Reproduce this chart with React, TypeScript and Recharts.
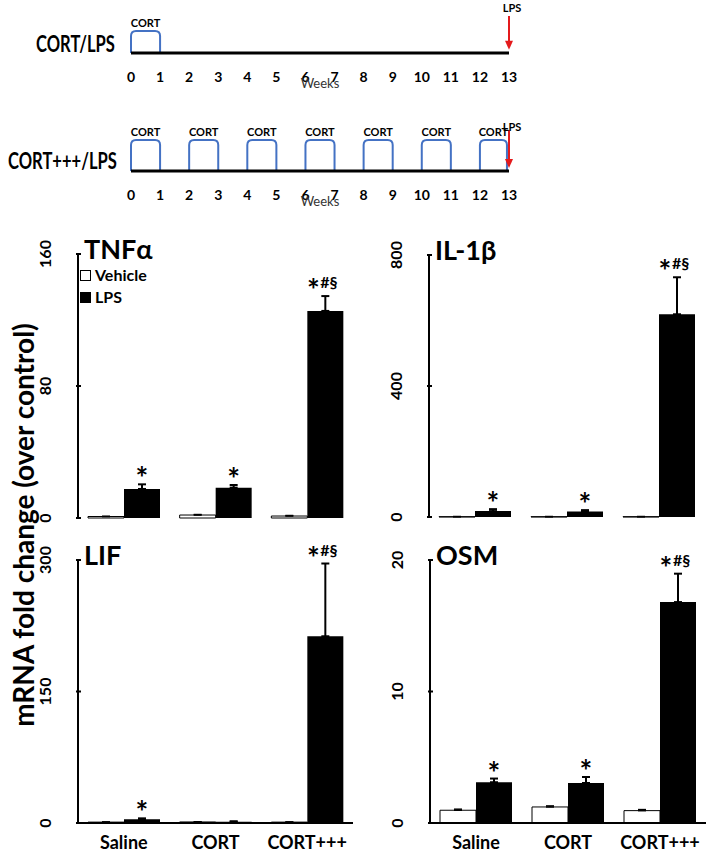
import React from 'react';
import {
  BarChart,
  Bar,
  XAxis,
  YAxis,
  ErrorBar,
  LabelList,
  Legend,
  LineChart,
  Line,
  ReferenceArea,
  ReferenceLine,
  ReferenceDot,
} from 'recharts';

const FONT = 'Lato, "Open Sans", sans-serif';

// timeline schematic
const WEEKS = [0, 1, 2, 3, 4, 5, 6, 7, 8, 9, 10, 11, 12, 13];
const CORT_ONCE = [[0, 1]];
const CORT_REPEAT = [[0, 1], [2, 3], [4, 5], [6, 7], [8, 9], [10, 11], [12, 12.93]];
const LPS_WEEK = 13;

// bar panels
const GROUPS = ['Saline', 'CORT', 'CORT+++'];
const SERIES = ['Vehicle', 'LPS'];

const TNF_VEH = [0.9, 1.8, 1.2];
const TNF_VEH_ERR = [0.1, 0.3, 0.3];
const TNF_LPS = [17.6, 18.4, 125.5];
const TNF_LPS_ERR = [2.8, 1.6, 9];
const TNF_TICKS = [0, 80, 160];

const IL1_VEH = [1, 1, 1];
const IL1_VEH_ERR = [0.3, 0.3, 0.3];
const IL1_LPS = [18, 17, 619];
const IL1_LPS_ERR = [6, 4, 113];
const IL1_TICKS = [0, 400, 800];

const LIF_VEH = [1, 1.2, 1];
const LIF_VEH_ERR = [0.2, 0.2, 0.2];
const LIF_LPS = [4.2, 1.5, 213];
const LIF_LPS_ERR = [1.1, 0.4, 83];
const LIF_TICKS = [0, 150, 300];

const OSM_VEH = [0.97, 1.22, 0.94];
const OSM_VEH_ERR = [0.08, 0.08, 0.08];
const OSM_LPS = [3.1, 3.04, 16.8];
const OSM_LPS_ERR = [0.28, 0.46, 2.16];
const OSM_TICKS = [0, 10, 20];

const STARS_ALL = ['*', '*', '*#§'];
const STARS_LIF = ['*', '', '*#§'];

const pulseShape = (p: any) => {
  const { x, y, width, height } = p;
  const r = 5;
  const d = `M${x},${y + height} L${x},${y + r} Q${x},${y} ${x + r},${y} L${x + width - r},${y} Q${x + width},${y} ${x + width},${y + r} L${x + width},${y + height}`;
  return <path d={d} fill="none" stroke="#4472C4" strokeWidth={2} />;
};

const arrowHead = (p: any) => {
  const { cx, cy } = p;
  return <polygon points={`${cx - 4},${cy - 9} ${cx + 4},${cy - 9} ${cx},${cy}`} fill="#e41a1c" />;
};

const lpsText = (p: any) => (
  <text x={p.cx + 3} y={p.cy} textAnchor="middle" dominantBaseline="central" fontSize={11} fontWeight={700} fill="#000">
    LPS
  </text>
);

function Timeline({ top, height, pulses, marginTop, marginBottom, arrowTop, labelY, tipY }: any) {
  const data = WEEKS.map((w) => ({ week: w, base: 0 }));
  return (
    <div style={{ position: 'absolute', left: 0, top }}>
      <LineChart width={712} height={height} data={data} margin={{ top: marginTop, right: 203, bottom: marginBottom, left: 131 }}>
        <XAxis
          dataKey="week"
          type="number"
          domain={[0, 13]}
          ticks={WEEKS}
          interval={0}
          height={30}
          tickLine={false}
          tickMargin={13}
          axisLine={{ stroke: '#000', strokeWidth: 3 }}
          tick={{ fontSize: 14, fontWeight: 700, fill: '#000' }}
          label={{ value: 'Weeks', position: 'bottom', offset: -4, fontSize: 13, fill: '#333' }}
        />
        <YAxis hide type="number" domain={[0, 2]} />
        <Line dataKey="base" stroke="none" dot={false} activeDot={false} isAnimationActive={false} />
        {pulses.map(([a, b]: number[], i: number) => (
          <ReferenceArea
            key={i}
            x1={a}
            x2={b}
            y1={0}
            y2={1}
            shape={pulseShape}
            ifOverflow="visible"
            label={{ value: 'CORT', position: 'top', offset: 4, fontSize: 11, fontWeight: 700, fill: '#000' }}
          />
        ))}
        <ReferenceLine
          segment={[{ x: LPS_WEEK, y: arrowTop }, { x: LPS_WEEK, y: tipY + 0.2 }]}
          stroke="#e41a1c"
          strokeWidth={2}
          ifOverflow="visible"
        />
        <ReferenceDot x={LPS_WEEK} y={tipY} r={0} shape={arrowHead} ifOverflow="visible" />
        <ReferenceDot x={LPS_WEEK} y={labelY} r={0} shape={lpsText} ifOverflow="visible" />
      </LineChart>
    </div>
  );
}

const makeYTick = (p: any) => {
  const { x, y, payload } = p;
  const tx = x - 32;
  return (
    <g>
      <line x1={x} x2={x + 5} y1={y} y2={y} stroke="#000" strokeWidth={2} />
      <text
        x={tx}
        y={y}
        transform={`rotate(-90 ${tx} ${y})`}
        textAnchor="middle"
        dominantBaseline="central"
        fontSize={16}
        fontWeight={700}
        fill="#000"
      >
        {payload.value}
      </text>
    </g>
  );
};

const legendContent = (props: any) => {
  const items = SERIES.map((name) => props.payload.find((e: any) => e.value === name)).filter(Boolean);
  return (
    <div style={{ fontFamily: FONT, fontWeight: 700, fontSize: 16, lineHeight: '22px', color: '#000' }}>
      {items.map((e: any) => (
        <div key={e.value} style={{ display: 'flex', alignItems: 'center' }}>
          <span
            style={{
              display: 'inline-block',
              width: 9,
              height: 9,
              border: '1px solid #000',
              background: e.color,
              marginRight: 4,
            }}
          />
          {e.value}
        </div>
      ))}
    </div>
  );
};

function Panel({ left, top, width, height, axisW, marginTop, marginRight, marginBottom, xHeight, title, veh, vehErr, lps, lpsErr, ticks, stars, showLegend }: any) {
  const data = GROUPS.map((g, i) => ({
    group: g,
    vehicle: veh[i],
    vehErr: [0, vehErr[i]],
    lps: lps[i],
    lpsErr: [0, lpsErr[i]],
    star: stars[i],
    err: lpsErr[i],
  }));

  const starLabel = (p: any) => {
    const { x, y, width: w, height: h, index } = p;
    const d = data[index];
    if (!d || !d.star) return null;
    const errPx = d.lps > 0 ? (d.err * Math.abs(h)) / d.lps : 0;
    const cx = x + w / 2;
    const errTop = y - errPx;
    if (d.star === '*') {
      return (
        <text x={cx} y={errTop + 5} textAnchor="middle" fontSize={30} fontWeight={700} fill="#000">
          *
        </text>
      );
    }
    return (
      <g>
        <text x={cx - 12} y={errTop + 5} textAnchor="middle" fontSize={30} fontWeight={700} fill="#000">
          *
        </text>
        <text x={cx - 5} y={errTop - 8} textAnchor="start" fontSize={16} fontWeight={700} fill="#000">
          #§
        </text>
      </g>
    );
  };

  return (
    <div style={{ position: 'absolute', left, top }}>
      <BarChart
        width={width}
        height={height}
        data={data}
        margin={{ top: marginTop, right: marginRight, bottom: marginBottom, left: 0 }}
        barCategoryGap={10}
        barGap={0}
      >
        <XAxis
          dataKey="group"
          height={xHeight}
          tickLine={false}
          tick={xHeight > 0 ? { fontSize: 18, fontWeight: 700, fill: '#000' } : false}
          tickMargin={7}
          axisLine={{ stroke: '#000', strokeWidth: 2 }}
        />
        <YAxis
          width={axisW}
          domain={[ticks[0], ticks[2]]}
          ticks={ticks}
          interval={0}
          tickSize={0}
          tickLine={false}
          tick={makeYTick}
          axisLine={{ stroke: '#000', strokeWidth: 2 }}
        />
        {showLegend && (
          <Legend
            layout="vertical"
            align="center"
            verticalAlign="middle"
            content={legendContent}
            wrapperStyle={{ position: 'absolute', left: 80, top: 34, width: 120 }}
          />
        )}
        <Bar dataKey="vehicle" name="Vehicle" fill="#fff" stroke="#000" strokeWidth={1} isAnimationActive={false}>
          <ErrorBar dataKey="vehErr" direction="y" width={4} stroke="#000" strokeWidth={1.5} />
        </Bar>
        <Bar dataKey="lps" name="LPS" fill="#000" isAnimationActive={false}>
          <ErrorBar dataKey="lpsErr" direction="y" width={4} stroke="#000" strokeWidth={2} />
          <LabelList dataKey="star" content={starLabel} />
        </Bar>
      </BarChart>
      <div
        style={{
          position: 'absolute',
          left: axisW + 6,
          top: marginTop - 20,
          fontSize: 27,
          fontWeight: 700,
          lineHeight: '30px',
          color: '#000',
        }}
      >
        {title}
      </div>
    </div>
  );
}

const groupLabel: React.CSSProperties = {
  position: 'absolute',
  fontSize: 23,
  fontWeight: 700,
  lineHeight: '28px',
  transform: 'scaleX(0.72)',
  transformOrigin: 'left center',
  whiteSpace: 'nowrap',
};

export default function App() {
  return (
    <div
      style={{
        position: 'absolute',
        left: 0,
        top: 0,
        width: 712,
        height: 852,
        background: '#fff',
        fontFamily: FONT,
        overflow: 'hidden',
      }}
    >
      <div style={{ ...groupLabel, left: 36, top: 29 }}>CORT/LPS</div>
      <div style={{ ...groupLabel, left: 8, top: 146 }}>CORT+++/LPS</div>

      <Timeline top={0} height={100} pulses={CORT_ONCE} marginTop={9} marginBottom={17} arrowTop={1.68} labelY={2.05} tipY={0.15} />
      <Timeline top={100} height={120} pulses={CORT_REPEAT} marginTop={9} marginBottom={19} arrowTop={1.32} labelY={1.45} tipY={0.1} />

      <div
        style={{
          position: 'absolute',
          left: 23,
          top: 525,
          transform: 'translate(-50%, -50%) rotate(-90deg)',
          whiteSpace: 'nowrap',
          fontSize: 28,
          fontWeight: 700,
          lineHeight: '32px',
        }}
      >
        mRNA fold change (over control)
      </div>

      <Panel left={0} top={230} width={360} height={300} axisW={78} marginTop={24} marginRight={7} marginBottom={12} xHeight={0}
        title="TNFα" veh={TNF_VEH} vehErr={TNF_VEH_ERR} lps={TNF_LPS} lpsErr={TNF_LPS_ERR} ticks={TNF_TICKS} stars={STARS_ALL} showLegend />
      <Panel left={360} top={231} width={352} height={298} axisW={69} marginTop={24} marginRight={7} marginBottom={12} xHeight={0}
        title="IL-1β" veh={IL1_VEH} vehErr={IL1_VEH_ERR} lps={IL1_LPS} lpsErr={IL1_LPS_ERR} ticks={IL1_TICKS} stars={STARS_ALL} />
      <Panel left={0} top={536} width={360} height={316} axisW={78} marginTop={24} marginRight={7} marginBottom={0} xHeight={29}
        title="LIF" veh={LIF_VEH} vehErr={LIF_VEH_ERR} lps={LIF_LPS} lpsErr={LIF_LPS_ERR} ticks={LIF_TICKS} stars={STARS_LIF} />
      <Panel left={360} top={536} width={352} height={316} axisW={70} marginTop={24} marginRight={6} marginBottom={0} xHeight={29}
        title="OSM" veh={OSM_VEH} vehErr={OSM_VEH_ERR} lps={OSM_LPS} lpsErr={OSM_LPS_ERR} ticks={OSM_TICKS} stars={STARS_ALL} />
    </div>
  );
}
